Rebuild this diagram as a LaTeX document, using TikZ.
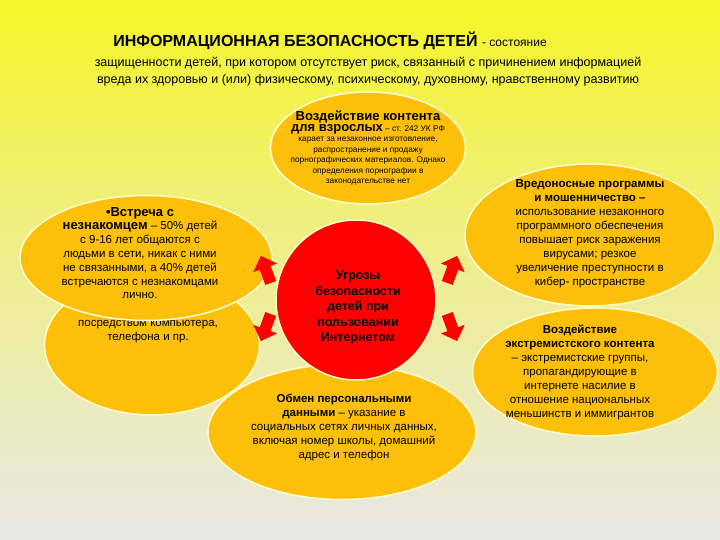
\documentclass[tikz,border=0pt]{standalone}
\usepackage{fontspec}
\setmainfont{Liberation Sans}
\usetikzlibrary{shapes.geometric}
\begin{document}
\begin{tikzpicture}[x=1pt,y=1pt,
  ell/.style={ellipse,fill=ybg,draw=yborder,line width=1.6pt,inner sep=0pt},
  txt/.style={align=center,text=black,font=\fontsize{11.5}{14}\selectfont},
  arr/.style={fill=red,draw=none}]
\definecolor{ybg}{RGB}{252,192,10}
\definecolor{yborder}{RGB}{255,250,200}
\definecolor{topbg}{RGB}{245,245,40}
\definecolor{botbg}{RGB}{232,232,230}
\shade[top color=topbg,bottom color=botbg,middle color=botbg!55!topbg] (0,0) rectangle (720,540);
\useasboundingbox (0,0) rectangle (720,540);
% title
\node[text=black,font=\fontsize{16}{18}\selectfont] (title) at (330,499) {\textbf{ИНФОРМАЦИОННАЯ БЕЗОПАСНОСТЬ ДЕТЕЙ} {\fontsize{12}{14}\selectfont - состояние}};
\node[align=center,text=black,font=\fontsize{12.5}{17}\selectfont] (sub) at (368,468) {защищенности детей, при котором отсутствует риск, связанный с причинением информацией\\вреда их здоровью и (или) физическому, психическому, духовному, нравственному развитию};
% ellipses
\node[ell,minimum width=215pt,minimum height=140pt] (ll) at (152,195) {};
\node[txt] (llt) at (148,222) {преднамеренное\\причинение вреда\\посредством компьютера,\\телефона и пр.};
\node[ell,minimum width=252pt,minimum height=125pt] (lu) at (146,282) {};
\node[txt,font=\fontsize{11.5}{13.8}\selectfont] (lut) at (140,287) {{\fontsize{13}{15}\selectfont\textbf{•Встреча с}}\\{\fontsize{13}{15}\selectfont\textbf{незнакомцем}} – 50\% детей\\с 9-16 лет общаются с\\людьми в сети, никак с ними\\не связанными, а 40\% детей\\встречаются с незнакомцами\\лично.};
\node[ell,minimum width=195pt,minimum height=112pt] (top) at (368,392) {};
\node[txt,font=\fontsize{8.3}{10.5}\selectfont] (topt) at (368,392) {{\fontsize{13}{17}\selectfont\textbf{Воздействие контента}}\\{\fontsize{13}{17}\selectfont\textbf{для взрослых}} – ст. 242 УК РФ\\карает за незаконное изготовление,\\распространение и продажу\\порнографических материалов. Однако\\определения порнографии в\\законодательстве нет};
\node[ell,minimum width=250pt,minimum height=142pt] (ru) at (590,305) {};
\node[txt] (rut) at (590,306) {\textbf{Вредоносные программы}\\\textbf{и мошенничество –}\\использование незаконного\\программного обеспечения\\повышает риск заражения\\вирусами; резкое\\увеличение преступности в\\кибер- пространстве};
\node[ell,minimum width=245pt,minimum height=128pt] (rl) at (595,168) {};
\node[txt] (rlt) at (580,168) {\textbf{Воздействие}\\\textbf{экстремистского контента}\\– экстремистские группы,\\пропагандирующие в\\интернете насилие в\\отношение национальных\\меньшинств и иммигрантов};
\node[ell,minimum width=268pt,minimum height=135pt] (bot) at (342,108) {};
\node[txt] (bott) at (344,113) {\textbf{Обмен персональными}\\\textbf{данными} – указание в\\социальных сетях личных данных,\\включая номер школы, домашний\\адрес и телефон};
\node[circle,fill=red,draw=yborder,line width=1.5pt,minimum size=160pt,inner sep=0pt] (c) at (356,240) {};
\node[txt,font=\fontsize{12.5}{15.5}\selectfont] (ct) at (358,232) {\textbf{Угрозы}\\\textbf{безопасности}\\\textbf{детей при}\\\textbf{пользовании}\\\textbf{Интернетом}};
% arrows
\foreach \px/\py/\r in {266/270/110, 266/213/250, 452/270/70, 452/213/-70}{
  \begin{scope}[shift={(\px,\py)},rotate=\r,scale=1.15]
    \fill[arr] (-12,-5) -- (2,-5) -- (2,-11) -- (13,0) -- (2,11) -- (2,5) -- (-12,5) -- cycle;
  \end{scope}
}
\end{tikzpicture}
\end{document}
